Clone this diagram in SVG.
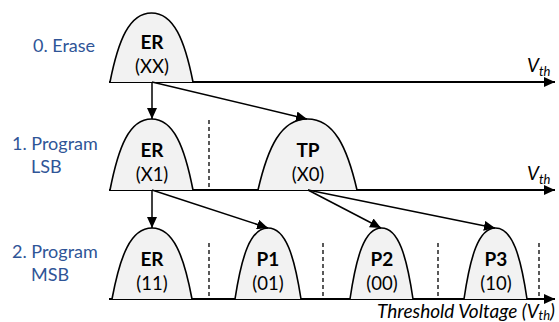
<svg xmlns="http://www.w3.org/2000/svg" width="559" height="322" viewBox="0 0 559 322">
<defs>
<marker id="ah" markerUnits="userSpaceOnUse" markerWidth="12" markerHeight="10" refX="11" refY="5" orient="auto">
<path d="M0,0 L11,5 L0,10 Z" fill="#000"/>
</marker>
<style>
.lbl{font-family:Lato,"Liberation Sans",sans-serif;font-size:18px;fill:#2F5597}
.nm{font-family:Lato,"Liberation Sans",sans-serif;font-size:19px;font-weight:bold;fill:#000;text-anchor:middle}
.cd{font-family:Lato,"Liberation Sans",sans-serif;font-size:18.5px;fill:#000;text-anchor:middle}
.ax{font-family:Lato,"Liberation Sans",sans-serif;font-size:19px;font-style:italic;fill:#000}
.bump{fill:#F2F2F2;stroke:#000;stroke-width:1.6}
.axis{stroke:#000;stroke-width:1.8;fill:none}
.dash{stroke:#000;stroke-width:1.3;stroke-dasharray:4 3;fill:none}
.conn{stroke:#000;stroke-width:1.5;fill:none}
</style>
</defs>
<g id="labels">
<text class="lbl" x="33" y="52">0. Erase</text>
<text class="lbl" x="12" y="150">1. Program</text>
<text class="lbl" x="31" y="173">LSB</text>
<text class="lbl" x="12" y="258">2. Program</text>
<text class="lbl" x="31" y="281">MSB</text>
</g>
<g id="axes">
<line class="axis" x1="109" y1="82" x2="555" y2="82" marker-end="url(#ah)"/>
<line class="axis" x1="109" y1="190" x2="555" y2="190" marker-end="url(#ah)"/>
<line class="axis" x1="109" y1="299" x2="555" y2="299" marker-end="url(#ah)"/>
<text class="ax" x="527" y="72">V<tspan font-size="13" dy="4">th</tspan></text>
<text class="ax" x="527" y="180">V<tspan font-size="13" dy="4">th</tspan></text>
<text class="ax" x="377" y="317.5">Threshold Voltage (V<tspan font-size="13" dy="2.5">th</tspan><tspan dy="-2.5">)</tspan></text>
</g>
<g id="dividers">
<line class="dash" x1="209" y1="120" x2="209" y2="189"/>
<line class="dash" x1="209" y1="243" x2="209" y2="298"/>
<line class="dash" x1="323" y1="243" x2="323" y2="298"/>
<line class="dash" x1="438" y1="243" x2="438" y2="298"/>
<line class="dash" x1="539" y1="243" x2="539" y2="298"/>
</g>
<g id="erase-ER">
<path class="bump" d="M110,82 C118.3,40.6 129.1,13 151.5,13 C173.9,13 184.7,40.6 193,82"/>
<text class="nm" x="152" y="49">ER</text>
<text class="cd" x="152" y="73">(XX)</text>
</g>
<g id="lsb-ER">
<path class="bump" d="M110,190 C118.3,147.4 129.1,119 151.5,119 C173.9,119 184.7,147.4 193,190"/>
<text class="nm" x="152" y="157">ER</text>
<text class="cd" x="152" y="181">(X1)</text>
</g>
<g id="lsb-TP">
<path class="bump" d="M258,190 C267.9,147.4 280.8,119 307.5,119 C334.2,119 347.1,147.4 357,190"/>
<text class="nm" x="308" y="157">TP</text>
<text class="cd" x="308" y="181">(X0)</text>
</g>
<g id="msb-ER">
<path class="bump" d="M112,299 C120,256.4 130.4,228 152,228 C173.6,228 184,256.4 192,299"/>
<text class="nm" x="152" y="266">ER</text>
<text class="cd" x="152" y="290">(11)</text>
</g>
<g id="msb-P1">
<path class="bump" d="M235,299 C241.6,256.4 250.2,228 268,228 C285.8,228 294.4,256.4 301,299"/>
<text class="nm" x="268" y="266">P1</text>
<text class="cd" x="268" y="290">(01)</text>
</g>
<g id="msb-P2">
<path class="bump" d="M350,299 C356.3,256.4 364.5,228 381.5,228 C398.5,228 406.7,256.4 413,299"/>
<text class="nm" x="382" y="266">P2</text>
<text class="cd" x="382" y="290">(00)</text>
</g>
<g id="msb-P3">
<path class="bump" d="M464,299 C470.3,256.4 478.5,228 495.5,228 C512.5,228 520.7,256.4 527,299"/>
<text class="nm" x="496" y="266">P3</text>
<text class="cd" x="496" y="290">(10)</text>
</g>
<g id="connectors">
<line class="conn" x1="152" y1="82" x2="152" y2="119" marker-end="url(#ah)"/>
<line class="conn" x1="152" y1="82" x2="307" y2="119" marker-end="url(#ah)"/>
<line class="conn" x1="152" y1="190" x2="152" y2="228" marker-end="url(#ah)"/>
<line class="conn" x1="152" y1="190" x2="268" y2="228" marker-end="url(#ah)"/>
<line class="conn" x1="308" y1="190" x2="381" y2="228" marker-end="url(#ah)"/>
<line class="conn" x1="308" y1="190" x2="495" y2="228" marker-end="url(#ah)"/>
</g>
</svg>
